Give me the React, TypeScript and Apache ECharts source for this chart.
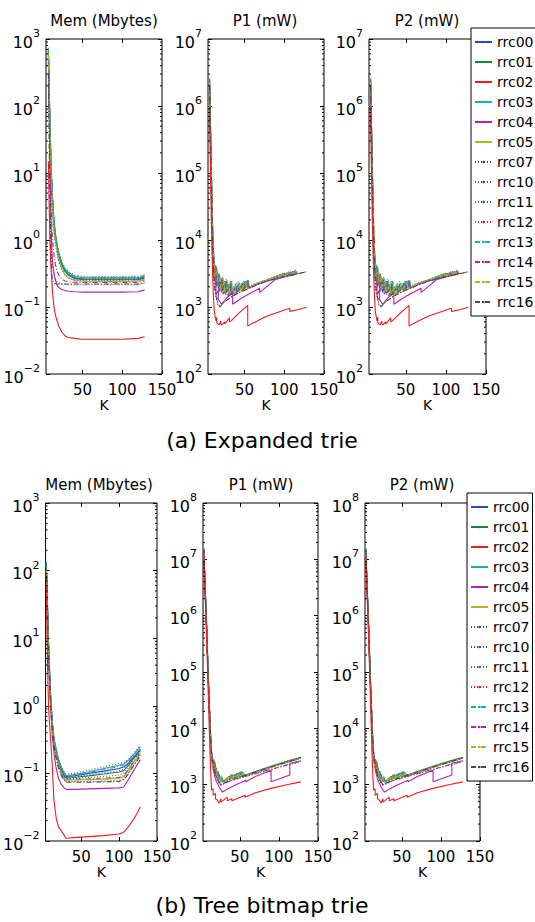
import React, { useEffect, useRef } from 'react';
import * as echarts from 'echarts';

const seriesNames = ['rrc00', 'rrc01', 'rrc02', 'rrc03', 'rrc04', 'rrc05', 'rrc07', 'rrc10', 'rrc11', 'rrc12', 'rrc13', 'rrc14', 'rrc15', 'rrc16'];
const xTickLabels = [50, 100, 150];
const panelTitles = ['Mem (Mbytes)', 'P1 (mW)', 'P2 (mW)'];
const captions = ['(a) Expanded trie', '(b) Tree bitmap trie'];

// (a) Expanded trie, memory (Mbytes), sampled at these K
const kMemTop = [7, 8, 9, 10, 11, 12, 14, 16, 18, 20, 24, 28, 32, 40, 50, 70, 100, 120, 128];
const memTop: number[][] = [
  [650, 170, 50, 18, 8, 4.2, 1.8, 1.1, 0.78, 0.6, 0.42, 0.34, 0.3, 0.265, 0.257, 0.255, 0.255, 0.257, 0.272],
  [680, 175, 52, 19, 8.2, 4.3, 1.85, 1.12, 0.8, 0.61, 0.43, 0.35, 0.31, 0.272, 0.264, 0.262, 0.262, 0.264, 0.28],
  [15, 3, 0.9, 0.45, 0.28, 0.18, 0.1, 0.075, 0.062, 0.052, 0.042, 0.037, 0.035, 0.034, 0.033, 0.033, 0.033, 0.034, 0.036],
  [720, 190, 58, 21, 9, 4.8, 2, 1.2, 0.85, 0.65, 0.45, 0.37, 0.33, 0.285, 0.275, 0.272, 0.272, 0.274, 0.29],
  [500, 100, 20, 3, 0.9, 0.5, 0.32, 0.25, 0.21, 0.195, 0.183, 0.176, 0.172, 0.169, 0.167, 0.167, 0.167, 0.169, 0.18],
  [600, 150, 42, 15, 6.5, 3.5, 1.5, 0.95, 0.68, 0.52, 0.37, 0.3, 0.27, 0.248, 0.242, 0.24, 0.24, 0.242, 0.255],
  [400, 60, 6, 1.2, 0.7, 0.45, 0.3, 0.26, 0.24, 0.23, 0.222, 0.218, 0.216, 0.215, 0.215, 0.215, 0.215, 0.216, 0.228],
  [550, 130, 35, 12, 5.5, 3, 1.3, 0.85, 0.62, 0.48, 0.36, 0.3, 0.275, 0.255, 0.25, 0.25, 0.25, 0.252, 0.266],
  [620, 160, 48, 17, 7.5, 4, 1.7, 1.05, 0.76, 0.58, 0.42, 0.34, 0.305, 0.275, 0.267, 0.265, 0.265, 0.267, 0.282],
  [740, 200, 62, 22, 9.5, 5, 2.1, 1.25, 0.88, 0.68, 0.47, 0.38, 0.34, 0.3, 0.288, 0.285, 0.285, 0.287, 0.302],
  [700, 185, 56, 20, 8.8, 4.6, 1.95, 1.18, 0.84, 0.64, 0.45, 0.365, 0.325, 0.288, 0.279, 0.277, 0.277, 0.279, 0.295],
  [450, 90, 20, 5, 2, 1.1, 0.6, 0.42, 0.34, 0.3, 0.26, 0.245, 0.238, 0.234, 0.232, 0.232, 0.232, 0.234, 0.246],
  [580, 140, 38, 13, 6, 3.2, 1.4, 0.9, 0.65, 0.5, 0.37, 0.3, 0.275, 0.253, 0.247, 0.245, 0.245, 0.247, 0.26],
  [300, 30, 3, 0.8, 0.35, 0.26, 0.225, 0.222, 0.221, 0.22, 0.22, 0.22, 0.22, 0.22, 0.22, 0.22, 0.22, 0.221, 0.232],
];

// (b) Tree bitmap trie, memory (Mbytes)
const kMemBottom = [4, 5, 6, 7, 8, 9, 10, 12, 14, 17, 20, 24, 28, 30, 40, 60, 80, 100, 106, 112, 118, 124, 128];
const memBottom: number[][] = [
  [120, 48, 19, 7.5, 3.8, 1.9, 1.15, 0.53, 0.32, 0.21, 0.155, 0.115, 0.095, 0.09, 0.092, 0.1, 0.108, 0.118, 0.124, 0.14, 0.17, 0.2, 0.23],
  [110, 45, 18, 7, 3.6, 1.8, 1.1, 0.5, 0.3, 0.2, 0.148, 0.11, 0.09, 0.086, 0.087, 0.092, 0.098, 0.105, 0.11, 0.13, 0.16, 0.19, 0.22],
  [60, 10, 2.5, 0.9, 0.6, 0.4, 0.28, 0.12, 0.04, 0.022, 0.016, 0.014, 0.012, 0.011, 0.0112, 0.0116, 0.012, 0.0127, 0.0135, 0.016, 0.02, 0.026, 0.032],
  [135, 52, 21, 8.5, 4.2, 2.1, 1.25, 0.57, 0.34, 0.23, 0.165, 0.122, 0.1, 0.093, 0.096, 0.106, 0.118, 0.132, 0.138, 0.155, 0.185, 0.22, 0.25],
  [80, 30, 12, 5, 2.5, 1.3, 0.8, 0.35, 0.2, 0.12, 0.085, 0.068, 0.06, 0.058, 0.058, 0.059, 0.06, 0.061, 0.063, 0.08, 0.105, 0.135, 0.16],
  [100, 40, 16, 6.5, 3.2, 1.6, 1, 0.46, 0.28, 0.19, 0.14, 0.1, 0.085, 0.08, 0.08, 0.081, 0.082, 0.084, 0.09, 0.11, 0.14, 0.17, 0.2],
  [90, 35, 14, 5.8, 2.9, 1.5, 0.95, 0.43, 0.26, 0.17, 0.125, 0.095, 0.08, 0.076, 0.076, 0.076, 0.077, 0.078, 0.083, 0.1, 0.13, 0.16, 0.19],
  [115, 46, 18.5, 7.2, 3.7, 1.85, 1.12, 0.52, 0.31, 0.205, 0.15, 0.112, 0.092, 0.088, 0.089, 0.095, 0.102, 0.11, 0.116, 0.135, 0.165, 0.195, 0.225],
  [105, 42, 17, 6.8, 3.4, 1.7, 1.05, 0.48, 0.29, 0.195, 0.145, 0.106, 0.088, 0.084, 0.084, 0.087, 0.09, 0.094, 0.1, 0.12, 0.15, 0.18, 0.21],
  [130, 51, 20.5, 8.2, 4.1, 2.05, 1.22, 0.56, 0.335, 0.225, 0.163, 0.124, 0.103, 0.097, 0.1, 0.112, 0.125, 0.14, 0.145, 0.16, 0.19, 0.23, 0.26],
  [128, 50, 20, 8, 4, 2, 1.2, 0.55, 0.33, 0.22, 0.16, 0.12, 0.098, 0.092, 0.094, 0.103, 0.114, 0.127, 0.133, 0.15, 0.18, 0.215, 0.245],
  [95, 38, 15, 6.2, 3.1, 1.55, 0.98, 0.45, 0.27, 0.18, 0.13, 0.098, 0.084, 0.082, 0.082, 0.083, 0.085, 0.087, 0.093, 0.112, 0.142, 0.172, 0.205],
  [98, 39, 15.5, 6.3, 3.15, 1.58, 0.99, 0.455, 0.275, 0.185, 0.135, 0.099, 0.083, 0.079, 0.08, 0.081, 0.083, 0.085, 0.088, 0.108, 0.138, 0.168, 0.198],
  [85, 33, 13, 5.5, 2.8, 1.45, 0.92, 0.42, 0.25, 0.165, 0.12, 0.092, 0.078, 0.074, 0.074, 0.074, 0.075, 0.076, 0.081, 0.097, 0.125, 0.155, 0.185],
];

// (a) Expanded trie, power (mW): [K, value] vertices (P1 and P2 read the same)
const powerTop: [number, number][][] = [
  [[6, 2.5e6], [7, 6e5], [8, 1.5e5], [9, 4e4], [10, 1.2e4], [11, 6000], [12, 4000], [13, 3000], [14, 3500], [14, 2300], [17, 3000], [17, 1900], [21, 2500], [21, 1700], [26, 2300], [26, 1600], [32, 2200], [32, 1500], [40, 2000], [40, 1650], [48, 2200], [48, 1800], [55, 2300], [55, 1950], [65, 2200], [77, 2480], [88, 2750], [95, 3000], [95, 2850], [103, 3150], [103, 2950], [112, 3350], [112, 3150], [115, 3200]],
  [[6, 2.3e6], [7, 5.5e5], [8, 1.3e5], [9, 3.5e4], [10, 1.1e4], [11, 5500], [12, 3800], [13, 3200], [15, 3800], [15, 2400], [18, 3100], [18, 2000], [22, 2600], [22, 1750], [27, 2400], [27, 1650], [33, 2300], [33, 1550], [42, 2100], [42, 1700], [50, 2300], [50, 1850], [54, 2450], [54, 1950], [65, 2200], [77, 2470], [90, 2800], [97, 3050], [97, 2900], [105, 3250], [105, 3000], [113, 3400], [113, 3200], [116, 3250]],
  [[6, 8e5], [7, 1.2e5], [8, 2.5e4], [9, 7000], [10, 2600], [11, 1300], [12, 850], [14, 620], [15, 700], [15, 580], [18, 540], [20, 620], [20, 560], [21.5, 540], [25, 600], [25, 560], [31, 690], [31, 600], [33, 620], [44, 830], [54, 1060], [54, 520], [60, 570], [77, 720], [94, 850], [107, 955], [107, 860], [118, 920], [128, 990]],
  [[6, 2.6e6], [7, 6.5e5], [8, 1.6e5], [9, 4.2e4], [10, 1.3e4], [11, 7000], [12, 4600], [13, 3800], [14, 4200], [14, 2500], [16, 3300], [16, 2100], [19, 2900], [19, 1900], [23, 2700], [23, 1800], [28, 2500], [28, 1700], [34, 2400], [34, 1650], [44, 2300], [44, 1800], [52, 2450], [52, 1900], [55, 2500], [55, 1950], [66, 2230], [78, 2500], [90, 2850], [100, 3150], [100, 2950], [108, 3300], [108, 3100], [115, 3400], [115, 3150]],
  [[6, 1.6e6], [7, 3.5e5], [8, 8e4], [9, 2.2e4], [10, 7000], [11, 3800], [12, 2600], [14, 2200], [14, 1500], [17, 1800], [17, 1300], [21, 1100], [27, 1350], [33, 1550], [35, 1600], [35, 1100], [45, 1330], [56, 1580], [69, 1900], [69, 1650], [80, 2100], [88, 2550], [100, 2800], [115, 3080]],
  [[6, 2.0e6], [7, 4.5e5], [8, 1.1e5], [9, 3e4], [10, 9000], [11, 5000], [12, 3500], [13, 2900], [15, 3500], [15, 2200], [18, 2800], [18, 1800], [24, 2500], [24, 1600], [30, 2200], [30, 1500], [36, 2000], [36, 1500], [46, 2000], [46, 1700], [53, 2300], [53, 1900], [65, 2180], [77, 2450], [88, 2800], [94, 3000], [94, 2800], [101, 3200], [101, 2950], [110, 3300], [110, 3100], [114, 3200]],
  [[6, 1.5e6], [7, 3e5], [8, 6e4], [9, 1.5e4], [10, 5000], [11, 2600], [12, 1800], [13, 2300], [13, 1500], [16, 1300], [16, 1100], [19, 1020], [25, 1210], [35, 1460], [45, 1690], [56, 1910], [65, 2130], [77, 2410], [90, 2660], [100, 2860], [115, 3110], [128, 3360]],
  [[6, 1.8e6], [7, 4e5], [8, 1e5], [9, 2.8e4], [10, 8500], [11, 4500], [12, 3200], [14, 3300], [14, 2100], [17, 2700], [17, 1800], [21, 2400], [21, 1600], [26, 2200], [26, 1500], [32, 2100], [32, 1500], [40, 2000], [40, 1600], [49, 2300], [49, 1800], [55, 2350], [55, 1950], [65, 2170], [77, 2440], [90, 2700], [100, 2950], [112, 3250], [118, 3150]],
  [[6, 1.7e6], [7, 3.8e5], [8, 9.5e4], [9, 2.6e4], [10, 8000], [11, 4300], [12, 3100], [15, 3400], [15, 2100], [19, 2700], [19, 1800], [24, 2400], [24, 1650], [30, 2250], [30, 1550], [38, 2150], [38, 1600], [47, 2250], [47, 1800], [54, 2400], [54, 1950], [65, 2160], [77, 2430], [90, 2700], [98, 2950], [98, 2800], [106, 3100], [106, 2950], [114, 3250], [116, 3150]],
  [[6, 2.4e6], [7, 6e5], [8, 1.5e5], [9, 4e4], [10, 1.25e4], [11, 6500], [12, 4400], [13, 3700], [15, 4000], [15, 2500], [18, 3200], [18, 2100], [22, 2800], [22, 1800], [27, 2600], [27, 1750], [33, 2500], [33, 1650], [42, 2400], [42, 1800], [50, 2500], [50, 1900], [54, 2550], [54, 2000], [66, 2300], [78, 2550], [90, 2900], [100, 3250], [100, 3050], [108, 3450], [108, 3250], [115, 3600], [115, 3300]],
  [[6, 2.1e6], [7, 5e5], [8, 1.25e5], [9, 3.3e4], [10, 1e4], [11, 5500], [12, 3900], [13, 3300], [14, 3700], [14, 2300], [17, 3000], [17, 2000], [20, 2700], [20, 1800], [25, 2500], [25, 1700], [31, 2350], [31, 1600], [39, 2200], [39, 1700], [48, 2350], [48, 1850], [53, 2450], [53, 1950], [65, 2200], [77, 2470], [88, 2780], [96, 3050], [96, 2850], [104, 3250], [104, 3050], [112, 3400], [112, 3200], [115, 3250]],
  [[6, 1.9e6], [7, 4.2e5], [8, 1.05e5], [9, 2.9e4], [10, 9000], [11, 4800], [12, 3300], [14, 3000], [14, 2000], [18, 2600], [18, 1700], [23, 2300], [23, 1550], [29, 2100], [29, 1450], [37, 1900], [37, 1550], [46, 2100], [46, 1750], [55, 2300], [55, 1920], [65, 2150], [77, 2420], [90, 2680], [100, 2900], [110, 3150], [118, 3180]],
  [[6, 2.2e6], [7, 5.2e5], [8, 1.3e5], [9, 3.4e4], [10, 1.05e4], [11, 5700], [12, 3900], [13, 3100], [16, 3400], [16, 2200], [20, 2700], [20, 1800], [25, 2400], [25, 1650], [31, 2200], [31, 1550], [38, 2050], [38, 1600], [45, 2150], [45, 1750], [52, 2350], [52, 1900], [65, 2190], [77, 2460], [87, 2750], [93, 2950], [93, 2780], [100, 3100], [100, 2900], [107, 3200], [107, 3050], [113, 3300], [113, 3150], [116, 3200]],
  [[6, 2.0e6], [7, 4e5], [8, 8e4], [9, 2e4], [10, 7000], [11, 3500], [12, 2200], [14, 1500], [16, 1150], [19, 1000], [25, 1200], [30, 1320], [35, 1450], [45, 1680], [56, 1900], [65, 2120], [77, 2400], [90, 2650], [100, 2850], [115, 3100], [128, 3350]],
];

// (b) Tree bitmap trie, power (mW): [K, value] vertices (P1 and P2 read the same)
const powerBottom: [number, number][][] = [
  [[4, 1.5e7], [5, 6.2e6], [6, 2.6e6], [7, 1.15e6], [8, 4.8e5], [9, 1.7e5], [10, 6.8e4], [11, 2.9e4], [12, 1.25e4], [13, 6200], [14, 3600], [16, 2400], [18, 2500], [18, 1800], [22, 1700], [22, 1350], [26, 1350], [26, 1150], [32, 1200], [38, 1420], [38, 1250], [44, 1500], [44, 1320], [50, 1650], [50, 1400], [55, 1480], [60, 1510], [80, 1880], [100, 2320], [115, 2680], [128, 3020]],
  [[4, 1.45e7], [5, 6e6], [6, 2.5e6], [7, 1.1e6], [8, 4.6e5], [9, 1.65e5], [10, 6.5e4], [11, 2.8e4], [12, 1.2e4], [13, 6000], [14, 3500], [16, 2350], [19, 2300], [19, 1700], [23, 1550], [23, 1300], [27, 1300], [27, 1120], [33, 1200], [39, 1450], [39, 1270], [47, 1600], [47, 1380], [53, 1680], [53, 1420], [60, 1500], [80, 1870], [100, 2300], [115, 2650], [128, 2980]],
  [[4, 1.2e7], [5, 4.5e6], [6, 1.7e6], [7, 7e5], [8, 2.6e5], [9, 9e4], [10, 3e4], [11, 1e4], [12, 3500], [13, 1500], [14, 800], [16, 850], [16, 650], [19, 700], [19, 560], [21.5, 530], [23.5, 470], [26, 560], [26, 490], [34, 600], [34, 520], [40, 560], [40, 520], [57, 650], [57, 600], [70, 720], [90, 860], [110, 1000], [128, 1120]],
  [[4, 1.6e7], [5, 6.5e6], [6, 2.7e6], [7, 1.2e6], [8, 5e5], [9, 1.8e5], [10, 7e4], [11, 3e4], [12, 1.3e4], [13, 6500], [14, 3800], [16, 2500], [17, 2800], [17, 1900], [20, 2000], [20, 1500], [24, 1500], [24, 1250], [28, 1300], [28, 1100], [34, 1250], [40, 1500], [40, 1280], [46, 1550], [46, 1350], [52, 1700], [52, 1400], [55, 1450], [60, 1520], [80, 1900], [100, 2350], [115, 2700], [128, 3050]],
  [[4, 1.4e7], [5, 5.5e6], [6, 2.3e6], [7, 1e6], [8, 4e5], [9, 1.4e5], [10, 5.5e4], [11, 2.3e4], [12, 1e4], [13, 5000], [14, 2800], [16, 1900], [18, 1400], [20, 1150], [23, 950], [26, 800], [28, 740], [35, 850], [45, 1000], [58, 1200], [58, 1130], [70, 1400], [90, 1800], [90, 1130], [114, 1480], [114, 2400], [128, 2650]],
  [[4, 1.35e7], [5, 5.6e6], [6, 2.35e6], [7, 1.05e6], [8, 4.3e5], [9, 1.55e5], [10, 6.2e4], [11, 2.6e4], [12, 1.15e4], [13, 5700], [14, 3300], [16, 2200], [18, 2300], [18, 1700], [21, 1600], [21, 1300], [25, 1350], [25, 1150], [30, 1180], [36, 1380], [36, 1220], [42, 1450], [42, 1300], [48, 1560], [48, 1380], [54, 1650], [54, 1420], [60, 1480], [80, 1830], [100, 2250], [115, 2600], [128, 2950]],
  [[4, 1.3e7], [5, 5e6], [6, 2.1e6], [7, 9e5], [8, 3.7e5], [9, 1.3e5], [10, 5.2e4], [11, 2.2e4], [12, 9500], [13, 5000], [14, 3000], [16, 2100], [18, 1600], [21, 1300], [21, 1150], [26, 980], [35, 1120], [45, 1250], [60, 1420], [80, 1700], [100, 2020], [115, 2300], [128, 2550]],
  [[4, 1.42e7], [5, 5.8e6], [6, 2.45e6], [7, 1.08e6], [8, 4.5e5], [9, 1.6e5], [10, 6.3e4], [11, 2.7e4], [12, 1.18e4], [13, 5800], [14, 3200], [16, 2150], [20, 1900], [20, 1450], [25, 1380], [25, 1150], [30, 1150], [37, 1400], [37, 1230], [45, 1500], [45, 1330], [55, 1650], [55, 1430], [60, 1490], [80, 1860], [100, 2300], [115, 2640], [128, 2990]],
  [[4, 1.38e7], [5, 5.7e6], [6, 2.4e6], [7, 1.06e6], [8, 4.4e5], [9, 1.58e5], [10, 6.2e4], [11, 2.65e4], [12, 1.16e4], [13, 5700], [14, 3100], [16, 2100], [19, 2000], [19, 1550], [24, 1450], [24, 1200], [29, 1200], [29, 1100], [35, 1200], [43, 1480], [43, 1300], [51, 1600], [51, 1400], [60, 1480], [80, 1850], [100, 2270], [115, 2620], [128, 2970]],
  [[4, 1.55e7], [5, 6.4e6], [6, 2.65e6], [7, 1.18e6], [8, 4.9e5], [9, 1.75e5], [10, 6.9e4], [11, 2.95e4], [12, 1.28e4], [13, 6400], [14, 3700], [16, 2500], [18, 2600], [18, 1850], [22, 1750], [22, 1400], [27, 1400], [27, 1180], [33, 1250], [39, 1500], [39, 1300], [46, 1620], [46, 1400], [53, 1750], [53, 1450], [60, 1530], [80, 1920], [100, 2380], [115, 2730], [128, 3080]],
  [[4, 1.48e7], [5, 6.1e6], [6, 2.55e6], [7, 1.12e6], [8, 4.7e5], [9, 1.68e5], [10, 6.6e4], [11, 2.85e4], [12, 1.22e4], [13, 6100], [14, 3400], [16, 2300], [19, 2350], [19, 1750], [23, 1600], [23, 1300], [28, 1320], [28, 1120], [34, 1230], [41, 1500], [41, 1300], [48, 1620], [48, 1400], [54, 1700], [54, 1430], [60, 1500], [80, 1880], [100, 2320], [115, 2680], [128, 3030]],
  [[4, 1.32e7], [5, 5.2e6], [6, 2.2e6], [7, 9.5e5], [8, 3.9e5], [9, 1.35e5], [10, 5.4e4], [11, 2.3e4], [12, 9800], [13, 5100], [14, 2900], [16, 2000], [18, 1550], [21, 1250], [26, 990], [35, 1130], [45, 1270], [60, 1440], [80, 1720], [100, 2050], [115, 2340], [128, 2600]],
  [[4, 1.36e7], [5, 5.5e6], [6, 2.3e6], [7, 1.02e6], [8, 4.2e5], [9, 1.5e5], [10, 6e4], [11, 2.55e4], [12, 1.12e4], [13, 5500], [14, 3000], [16, 2050], [20, 1850], [20, 1400], [26, 1350], [26, 1120], [31, 1160], [38, 1400], [38, 1240], [44, 1480], [44, 1320], [50, 1580], [50, 1380], [55, 1620], [55, 1420], [60, 1470], [80, 1820], [100, 2240], [115, 2590], [128, 2940]],
  [[4, 1.5e7], [5, 6e6], [6, 2.5e6], [7, 1.1e6], [8, 4.5e5], [9, 1.6e5], [10, 6.5e4], [11, 2.8e4], [12, 1.2e4], [13, 6000], [14, 3500], [16, 2300], [18, 1750], [20, 1450], [23, 1150], [26, 1000], [35, 1150], [45, 1300], [60, 1500], [80, 1850], [100, 2280], [115, 2620], [128, 3000]],
];

const FONT = '"DejaVu Sans", "Liberation Sans", sans-serif';
const BLUE = '#2a48cc', GREEN = '#1f8040', RED = '#f01c1c', CYAN = '#12b0b0', MAG = '#b024b0', YEL = '#b4b418', GRAY = '#464646';
const seriesColors = [BLUE, GREEN, RED, CYAN, MAG, YEL, GRAY, BLUE, GREEN, RED, CYAN, MAG, YEL, GRAY];
const SOLID = 'solid';
const DOT = [1, 2];
const DASHDOT = [5, 2, 1, 2];
const seriesDash: any[] = [SOLID, SOLID, SOLID, SOLID, SOLID, SOLID, DOT, DOT, DOT, DOT, DASHDOT, DASHDOT, DASHDOT, DASHDOT];

const memPairs = (ks: number[], vals: number[][]) => vals.map((row) => row.map((v, i) => [ks[i], v] as [number, number]));

type Panel = {
  grid: { left: number; top: number; width: number; height: number };
  xMin: number;
  yMin: number;
  yMax: number;
  data: [number, number][][];
  title: string;
  titleX: number;
  titleY: number;
};

const panels: Panel[] = [
  { grid: { left: 46, top: 39, width: 116, height: 335 }, xMin: 4, yMin: 1e-2, yMax: 1e3, data: memPairs(kMemTop, memTop), title: panelTitles[0], titleX: 104, titleY: 21 },
  { grid: { left: 208, top: 39, width: 116, height: 335 }, xMin: 4, yMin: 1e2, yMax: 1e7, data: powerTop, title: panelTitles[1], titleX: 265, titleY: 21 },
  { grid: { left: 369, top: 39, width: 117, height: 335 }, xMin: 4, yMin: 1e2, yMax: 1e7, data: powerTop, title: panelTitles[2], titleX: 427, titleY: 21 },
  { grid: { left: 42, top: 503, width: 115, height: 338 }, xMin: 3, yMin: 1e-2, yMax: 1e3, data: memPairs(kMemBottom, memBottom), title: panelTitles[0], titleX: 99, titleY: 485 },
  { grid: { left: 203, top: 503, width: 115, height: 338 }, xMin: 3, yMin: 1e2, yMax: 1e8, data: powerBottom, title: panelTitles[1], titleX: 261, titleY: 485 },
  { grid: { left: 365, top: 503, width: 115, height: 338 }, xMin: 3, yMin: 1e2, yMax: 1e8, data: powerBottom, title: panelTitles[2], titleX: 422, titleY: 485 },
];

const supLabel = (v: number) => {
  const e = Math.round(Math.log10(v));
  return `{b|10}{s|${e < 0 ? '\u2212' : ''}${Math.abs(e)}}`;
};

function buildOption() {
  const grid: any[] = [];
  const xAxis: any[] = [];
  const yAxis: any[] = [];
  const series: any[] = [];
  const graphic: any[] = [];

  panels.forEach((p, gi) => {
    grid.push({ ...p.grid, show: true, borderColor: '#000', borderWidth: 1, backgroundColor: 'transparent' });
    const decades = Math.round(Math.log10(p.yMax / p.yMin));
    xAxis.push({
      type: 'value', gridIndex: gi, position: 'bottom', min: p.xMin, max: 150,
      axisLine: { show: false }, splitLine: { show: false },
      axisTick: { show: true, inside: true, length: 4, customValues: xTickLabels, lineStyle: { color: '#000' } },
      axisLabel: { show: true, customValues: xTickLabels, fontSize: 15, fontFamily: FONT, color: '#000', margin: 8 },
      name: 'K', nameLocation: 'middle', nameGap: 17,
      nameTextStyle: { fontSize: 14, fontFamily: FONT, color: '#000' },
    });
    xAxis.push({
      type: 'value', gridIndex: gi, position: 'top', min: p.xMin, max: 150,
      axisLine: { show: false }, splitLine: { show: false },
      axisTick: { show: true, inside: true, length: 4, customValues: [50, 100], lineStyle: { color: '#000' } },
      axisLabel: { show: false },
    });
    yAxis.push({
      type: 'log', logBase: 10, gridIndex: gi, position: 'left', min: p.yMin, max: p.yMax, splitNumber: decades,
      axisLine: { show: false }, splitLine: { show: false },
      axisTick: { show: true, inside: true, length: 4, lineStyle: { color: '#000' } },
      axisLabel: {
        show: true, margin: 6, formatter: supLabel,
        rich: {
          b: { fontSize: 16, fontFamily: FONT, color: '#000', padding: [6, 0, 0, 0] },
          s: { fontSize: 11, fontFamily: FONT, color: '#000', verticalAlign: 'top' },
        },
      },
    });
    yAxis.push({
      type: 'log', logBase: 10, gridIndex: gi, position: 'right', min: p.yMin, max: p.yMax, splitNumber: decades,
      axisLine: { show: false }, splitLine: { show: false },
      axisTick: { show: true, inside: true, length: 4, lineStyle: { color: '#000' } },
      axisLabel: { show: false },
    });

    p.data.forEach((pts, si) => {
      series.push({
        type: 'line', name: seriesNames[si], xAxisIndex: gi * 2, yAxisIndex: gi * 2,
        data: pts, symbol: 'none', showSymbol: false, silent: true,
        lineStyle: { color: seriesColors[si], width: 1.1, type: seriesDash[si] },
        itemStyle: { color: seriesColors[si] },
        z: si === 2 ? 3 : 2,
      });
    });

    // minor log ticks (2..9 x 10^k) on both vertical edges
    const minor: [number, number][] = [];
    for (let e = Math.round(Math.log10(p.yMin)); e < Math.round(Math.log10(p.yMax)); e++) {
      for (let m = 2; m <= 9; m++) minor.push([p.xMin, m * Math.pow(10, e)]);
    }
    const xMin = p.xMin;
    series.push({
      type: 'custom', xAxisIndex: gi * 2, yAxisIndex: gi * 2, data: minor, silent: true, z: 5,
      renderItem: (_params: any, api: any) => {
        const v = api.value(1);
        const a = api.coord([xMin, v]);
        const b = api.coord([150, v]);
        return {
          type: 'group',
          children: [
            { type: 'line', shape: { x1: a[0], y1: a[1], x2: a[0] + 2, y2: a[1] }, style: { stroke: '#000', lineWidth: 1 } },
            { type: 'line', shape: { x1: b[0] - 2, y1: b[1], x2: b[0], y2: b[1] }, style: { stroke: '#000', lineWidth: 1 } },
          ],
        };
      },
    });

    graphic.push({
      type: 'text', x: p.titleX, y: p.titleY, silent: true,
      style: { text: p.title, fontSize: 15, fontFamily: FONT, fill: '#000', align: 'center', verticalAlign: 'middle' },
    });
  });

  graphic.push({ type: 'text', x: 262, y: 440, silent: true, style: { text: captions[0], fontSize: 22, fontFamily: FONT, fill: '#000', align: 'center', verticalAlign: 'middle' } });
  graphic.push({ type: 'text', x: 262, y: 905, silent: true, style: { text: captions[1], fontSize: 22, fontFamily: FONT, fill: '#000', align: 'center', verticalAlign: 'middle' } });

  const legendBase = {
    orient: 'vertical', data: seriesNames, itemWidth: 17, itemHeight: 3, itemGap: 6,
    padding: [7, 3, 7, 3], borderColor: '#000', borderWidth: 1, backgroundColor: '#fff',
    textStyle: { fontSize: 14, lineHeight: 14, fontFamily: FONT, color: '#000' }, selectedMode: false, z: 10,
  };

  return {
    animation: false,
    backgroundColor: '#fff',
    grid, xAxis, yAxis, series, graphic,
    legend: [
      { ...legendBase, left: 471, top: 28 },
      { ...legendBase, left: 467, top: 493 },
    ],
  };
}

export default function App() {
  const ref = useRef<HTMLDivElement>(null);
  useEffect(() => {
    if (!ref.current) return;
    const chart = echarts.init(ref.current, undefined, { renderer: 'svg' });
    chart.setOption(buildOption() as any);
    return () => chart.dispose();
  }, []);
  return <div ref={ref} style={{ position: 'fixed', left: 0, top: 0, width: 535, height: 922, background: '#fff' }} />;
}
